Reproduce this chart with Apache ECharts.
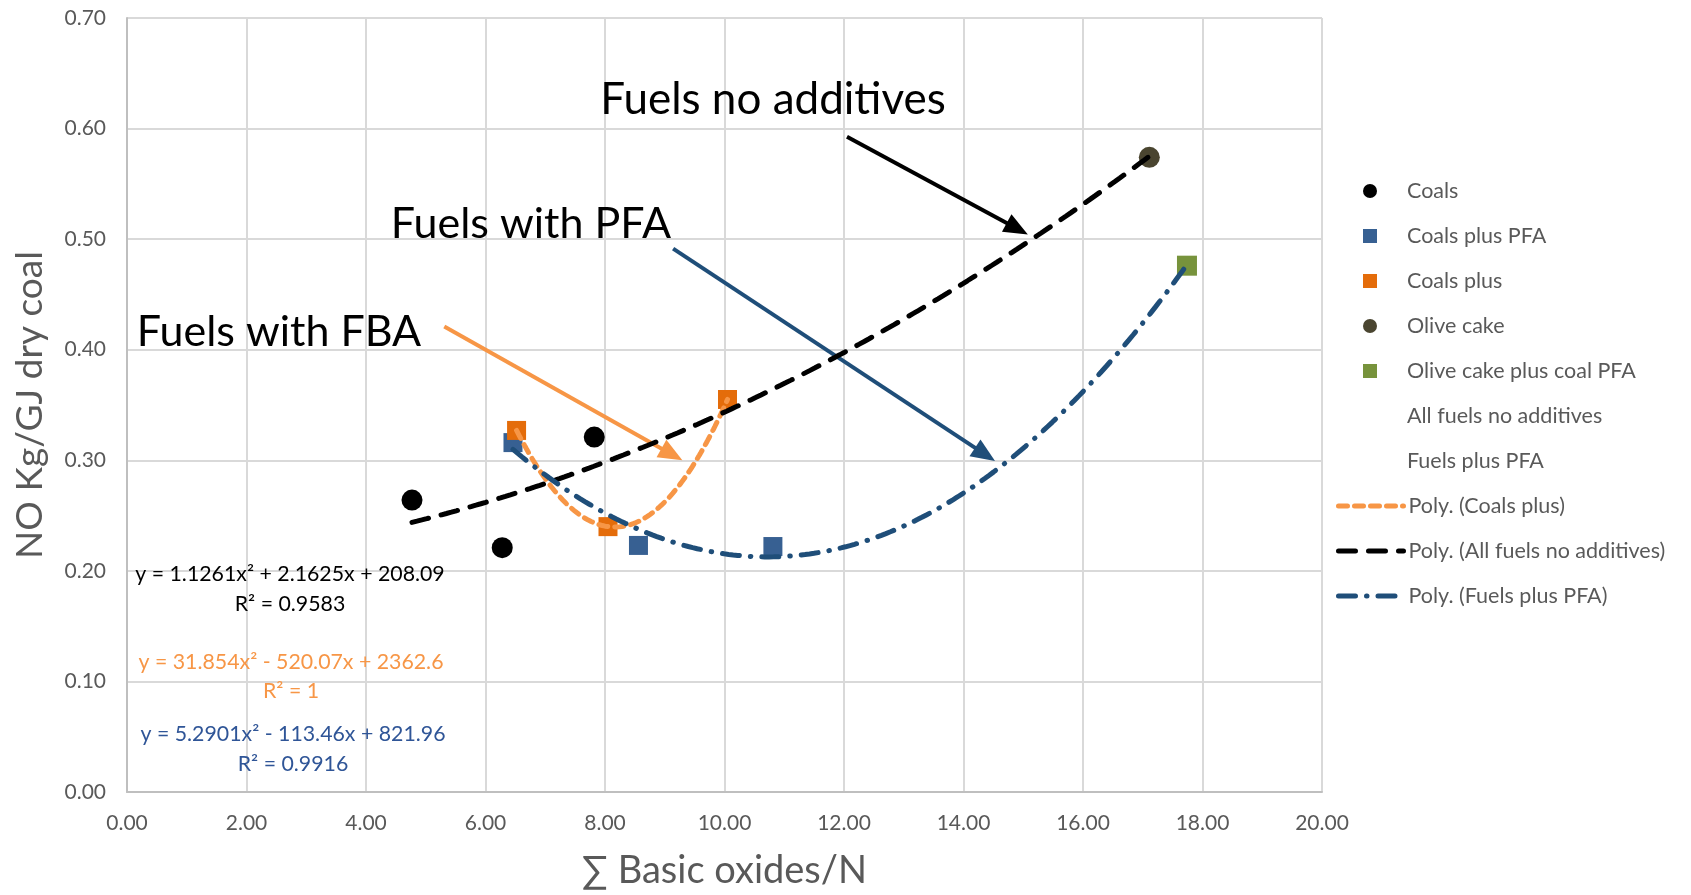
<!DOCTYPE html>
<html><head><meta charset="utf-8">
<script src="https://cdn.jsdelivr.net/npm/echarts@6/dist/echarts.min.js"></script>
<style>html,body{margin:0;padding:0;background:#fff}#c{width:1691px;height:895px}</style>
</head><body><div id="c"></div>
<script>
// ---- data ----
const coalsX = [4.77, 6.28, 7.82];
const coalsY = [0.264, 0.221, 0.321];
const coalsPfaX = [6.46, 8.56, 10.81];
const coalsPfaY = [0.316, 0.223, 0.222];
const coalsPlusX = [6.52, 8.05, 10.05];
const coalsPlusY = [0.327, 0.240, 0.355];
const oliveX = [17.11];
const oliveY = [0.574];
const olivePfaX = [17.74];
const olivePfaY = [0.476];
const seriesNames = ['Coals', 'Coals plus PFA', 'Coals plus', 'Olive cake', 'Olive cake plus coal PFA', 'All fuels no additives', 'Fuels plus PFA'];
const trendNames = ['Poly. (Coals plus)', 'Poly. (All fuels no additives)', 'Poly. (Fuels plus PFA)'];
const eqTexts = ['y = 1.1261x² + 2.1625x + 208.09', 'R² = 0.9583', 'y = 31.854x² - 520.07x + 2362.6', 'R² = 1', 'y = 5.2901x² - 113.46x + 821.96', 'R² = 0.9916'];
const annotTexts = ['Fuels no additives', 'Fuels with PFA', 'Fuels with FBA'];
// arrow annotations [x1,y1,x2,y2] in data units
const arrowBlack = [12.05, 0.5925, 14.90, 0.5094];
const arrowBlue = [9.14, 0.4914, 14.36, 0.3053];
const arrowOrange = [5.31, 0.4209, 9.12, 0.3053];

const pairs = (xs, ys) => xs.map((x, i) => [x, ys[i]]);
const allNoAddX = coalsX.concat(oliveX), allNoAddY = coalsY.concat(oliveY);
const pfaX = coalsPfaX.concat(olivePfaX), pfaY = coalsPfaY.concat(olivePfaY);

// least-squares quadratic trendline (as the spreadsheet's polynomial trendline)
function quadFit(xs, ys) {
  const S = [0,0,0,0,0], T = [0,0,0];
  xs.forEach((x, i) => { for (let k = 0; k < 5; k++) S[k] += Math.pow(x, k); for (let k = 0; k < 3; k++) T[k] += ys[i] * Math.pow(x, k); });
  const A = [[S[0],S[1],S[2],T[0]],[S[1],S[2],S[3],T[1]],[S[2],S[3],S[4],T[2]]];
  for (let c = 0; c < 3; c++) {
    let p = c; for (let r = c+1; r < 3; r++) if (Math.abs(A[r][c]) > Math.abs(A[p][c])) p = r;
    [A[c], A[p]] = [A[p], A[c]];
    for (let r = 0; r < 3; r++) if (r !== c) { const f = A[r][c] / A[c][c]; for (let k = c; k < 4; k++) A[r][k] -= f * A[c][k]; }
  }
  const a = A.map((row, i) => row[3] / row[i]);
  const lo = Math.min(...xs), hi = Math.max(...xs), out = [];
  for (let i = 0; i <= 150; i++) { const x = lo + (hi - lo) * i / 150; out.push([x, a[0] + a[1]*x + a[2]*x*x]); }
  return out;
}

const FONT = 'Lato';
const chart = echarts.init(document.getElementById('c'));
const mkArrow = (a, color) => ([{coord: [a[0], a[1]], lineStyle: {color, width: 4, type: 'solid'}}, {coord: [a[2], a[3]]}]);
const txt = (x, y, text, size, fill) => ({type: 'text', x, y, z: 100, style: {text, fontFamily: FONT, fontSize: size, fill, align: 'center', verticalAlign: 'middle'}});

chart.setOption({
  backgroundColor: '#fff',
  animation: false,
  grid: {left: 127, right: 369, top: 18, bottom: 102},
  xAxis: {
    type: 'value', min: 0, max: 20, interval: 2,
    name: '∑ Basic oxides/N', nameLocation: 'middle', nameGap: 60,
    nameTextStyle: {fontFamily: FONT, fontSize: 38, color: '#595959'},
    axisLine: {show: true, lineStyle: {color: '#bfbfbf', width: 2}},
    axisTick: {show: false},
    axisLabel: {formatter: v => v.toFixed(2), fontFamily: FONT, fontSize: 21, color: '#595959', margin: 21},
    splitLine: {show: true, lineStyle: {color: '#d9d9d9', width: 2}}
  },
  yAxis: {
    type: 'value', min: 0, max: 0.7, interval: 0.1,
    name: 'NO Kg/GJ dry coal', nameLocation: 'middle', nameGap: 78,
    nameTextStyle: {fontFamily: FONT, fontSize: 37, color: '#595959'},
    axisLine: {show: true, lineStyle: {color: '#bfbfbf', width: 2}},
    axisTick: {show: false},
    axisLabel: {formatter: v => v.toFixed(2), fontFamily: FONT, fontSize: 21, color: '#595959', margin: 21},
    splitLine: {show: true, lineStyle: {color: '#d9d9d9', width: 2}}
  },
  legend: [{
    orient: 'vertical', left: 1358, top: 175, itemWidth: 14, itemHeight: 14, itemGap: 23,
    selectedMode: false,
    textStyle: {fontFamily: FONT, fontSize: 21.5, color: '#595959', lineHeight: 22, padding: [0, 0, 0, 25]},
    data: [
      {name: seriesNames[0], icon: 'circle'},
      {name: seriesNames[1], icon: 'rect'},
      {name: seriesNames[2], icon: 'rect'},
      {name: seriesNames[3], icon: 'circle'},
      {name: seriesNames[4], icon: 'rect'},
      {name: seriesNames[5], icon: 'rect', itemStyle: {opacity: 0}},
      {name: seriesNames[6], icon: 'rect', itemStyle: {opacity: 0}}
    ]
  }, {
    orient: 'vertical', left: 1331, top: 490, itemWidth: 65, itemHeight: 14, itemGap: 23,
    selectedMode: false,
    itemStyle: {opacity: 0},
    lineStyle: {width: 5},
    textStyle: {fontFamily: FONT, fontSize: 21.5, color: '#595959', lineHeight: 22},
    data: trendNames
  }],
  series: [
    {name: seriesNames[0], type: 'scatter', symbol: 'circle', symbolSize: 21, itemStyle: {color: '#000000', opacity: 1}, data: pairs(coalsX, coalsY), z: 3},
    {name: seriesNames[1], type: 'scatter', symbol: 'rect', symbolSize: 19, itemStyle: {color: '#376092', opacity: 1}, data: pairs(coalsPfaX, coalsPfaY), z: 3},
    {name: seriesNames[2], type: 'scatter', symbol: 'rect', symbolSize: 19, itemStyle: {color: '#e46c0a', opacity: 1}, data: pairs(coalsPlusX, coalsPlusY), z: 3},
    {name: seriesNames[3], type: 'scatter', symbol: 'circle', symbolSize: 21, itemStyle: {color: '#4a4530', opacity: 1}, data: pairs(oliveX, oliveY), z: 3},
    {name: seriesNames[4], type: 'scatter', symbol: 'rect', symbolSize: 20, itemStyle: {color: '#77933c', opacity: 1}, data: pairs(olivePfaX, olivePfaY), z: 3},
    {name: seriesNames[5], type: 'scatter', symbolSize: 0, itemStyle: {color: '#000'}, data: pairs(allNoAddX, allNoAddY), z: 2,
      markLine: {silent: true, symbol: ['none', 'triangle'], symbolSize: [20, 24], label: {show: false},
        data: [mkArrow(arrowBlack, '#000000'), mkArrow(arrowBlue, '#1f4e79'), mkArrow(arrowOrange, '#f79646')]}},
    {name: seriesNames[6], type: 'scatter', symbolSize: 0, itemStyle: {color: '#1f4e79'}, data: pairs(pfaX, pfaY), z: 2},
    {name: trendNames[0], type: 'line', symbol: 'none', z: 5, color: '#f79646',
      lineStyle: {color: '#f79646', width: 5, type: [9, 7], cap: 'round'}, data: quadFit(coalsPlusX, coalsPlusY)},
    {name: trendNames[1], type: 'line', symbol: 'none', z: 5, color: '#000000',
      lineStyle: {color: '#000000', width: 5, type: [17, 13], cap: 'round'}, data: quadFit(allNoAddX, allNoAddY)},
    {name: trendNames[2], type: 'line', symbol: 'none', z: 5, color: '#1f4e79',
      lineStyle: {color: '#1f4e79', width: 5, type: [17, 11, 0.5, 11], cap: 'round'}, data: quadFit(pfaX, pfaY)}
  ],
  graphic: [
    txt(773, 100, annotTexts[0], 44, '#000'),
    txt(531, 224, annotTexts[1], 43, '#000'),
    txt(279, 332, annotTexts[2], 43, '#000'),
    txt(290, 574, eqTexts[0], 21.3, '#000'),
    txt(290, 604, eqTexts[1], 21.3, '#000'),
    txt(291, 662, eqTexts[2], 21.3, '#f79646'),
    txt(291, 691, eqTexts[3], 21.3, '#f79646'),
    txt(293, 734, eqTexts[4], 21.3, '#2f5597'),
    txt(293, 764, eqTexts[5], 21.3, '#2f5597')
  ]
});
</script></body></html>
